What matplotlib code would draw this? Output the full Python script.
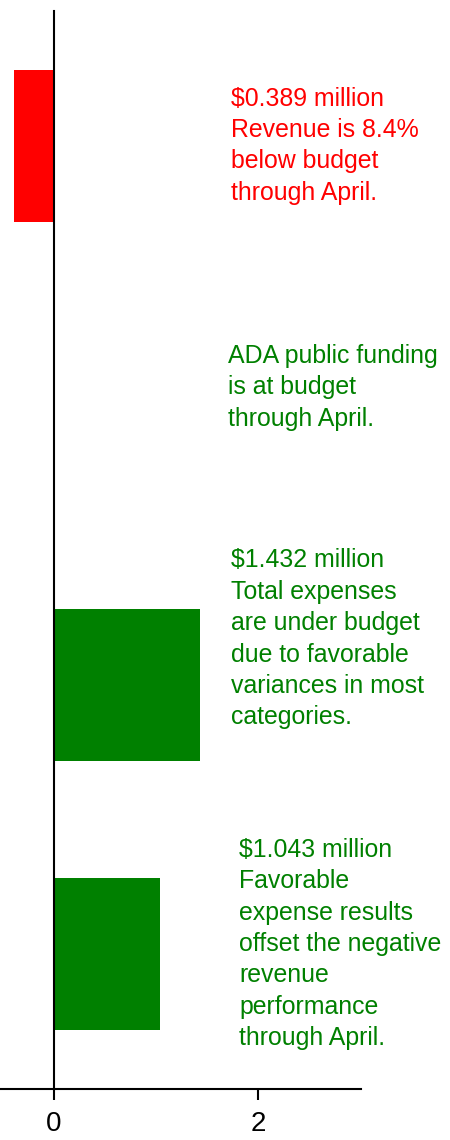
import matplotlib.pyplot as plt

plt.rcParams['font.family'] = ['Liberation Sans', 'DejaVu Sans']

categories = ['Revenue', 'ADA public funding', 'Total expenses', 'Net result']
values = [-0.389, 0.0, 1.432, 1.043]
colors = ['#ff0000', '#008000', '#008000', '#008000']
notes = [
    '$0.389 million\nRevenue is 8.4%\nbelow budget\nthrough April.',
    'ADA public funding\nis at budget\nthrough April.',
    '$1.432 million\nTotal expenses\nare under budget\ndue to favorable\nvariances in most\ncategories.',
    '$1.043 million\nFavorable\nexpense results\noffset the negative\nrevenue\nperformance\nthrough April.',
]
note_x = [1.735, 1.706, 1.735, 1.814]
note_y = [0.0, 0.897, 1.83, 2.962]

fig = plt.figure(figsize=(4.5, 11.4), dpi=100)
ax = fig.add_axes([0.0, 0.0447, 0.802, 0.9457])

pos = list(range(len(categories)))
ax.barh(pos, values, height=0.565, color=colors)

for i in pos:
    ax.text(note_x[i], note_y[i], notes[i], color=colors[i], fontsize=17.9,
            ha='left', va='center', linespacing=1.39)

ax.set_xlim(-0.523, 3.0)
ax.set_ylim(3.5, -0.5)
ax.set_xticks([0, 2])
ax.set_yticks([])
ax.tick_params(axis='x', labelsize=20, length=8, width=1.5, pad=8)

ax.spines['top'].set_visible(False)
ax.spines['right'].set_visible(False)
ax.spines['left'].set_position(('data', 0))
ax.spines['left'].set_linewidth(1.5)
ax.spines['bottom'].set_linewidth(1.5)

fig.savefig('out.png', dpi=100)
